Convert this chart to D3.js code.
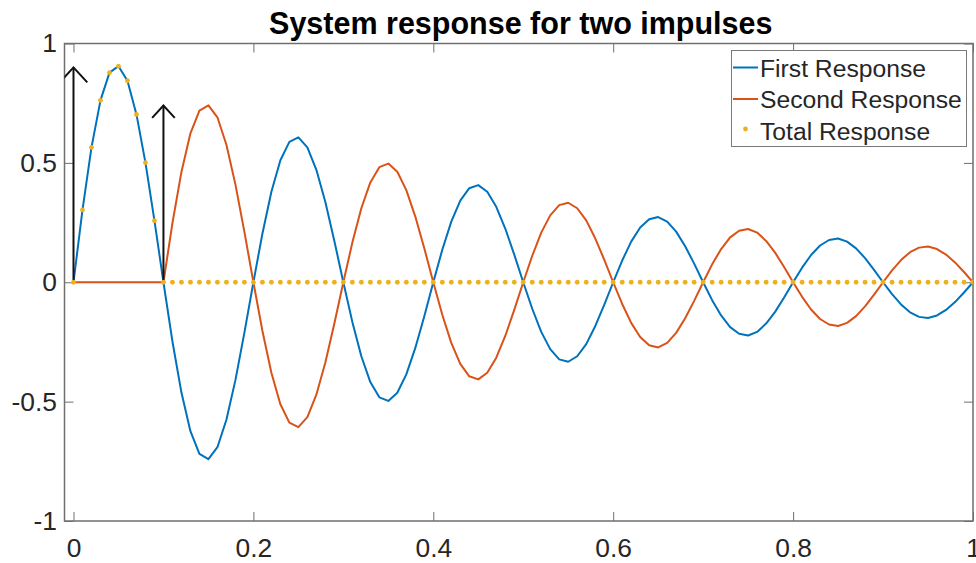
<!DOCTYPE html>
<html>
<head>
<meta charset="utf-8">
<script src="https://cdn.jsdelivr.net/npm/d3@7"></script>
<style>
  body { margin: 0; background: #fff; }
  svg { display: block; }
</style>
</head>
<body>
<svg id="chart" width="976" height="563"></svg>
<script>
// Sample times (s)
const timeSamples = [
  0.00, 0.01, 0.02, 0.03, 0.04, 0.05, 0.06, 0.07, 0.08, 0.09,
  0.10, 0.11, 0.12, 0.13, 0.14, 0.15, 0.16, 0.17, 0.18, 0.19,
  0.20, 0.21, 0.22, 0.23, 0.24, 0.25, 0.26, 0.27, 0.28, 0.29,
  0.30, 0.31, 0.32, 0.33, 0.34, 0.35, 0.36, 0.37, 0.38, 0.39,
  0.40, 0.41, 0.42, 0.43, 0.44, 0.45, 0.46, 0.47, 0.48, 0.49,
  0.50, 0.51, 0.52, 0.53, 0.54, 0.55, 0.56, 0.57, 0.58, 0.59,
  0.60, 0.61, 0.62, 0.63, 0.64, 0.65, 0.66, 0.67, 0.68, 0.69,
  0.70, 0.71, 0.72, 0.73, 0.74, 0.75, 0.76, 0.77, 0.78, 0.79,
  0.80, 0.81, 0.82, 0.83, 0.84, 0.85, 0.86, 0.87, 0.88, 0.89,
  0.90, 0.91, 0.92, 0.93, 0.94, 0.95, 0.96, 0.97, 0.98, 0.99,
  1.00
];

// Response to the impulse at t = 0
const firstResponse = [
  0, 0.303, 0.565, 0.762, 0.878, 0.905, 0.844, 0.703, 0.501, 0.258,
  0, -0.248, -0.462, -0.624, -0.719, -0.741, -0.691, -0.576, -0.410, -0.211,
  0, 0.203, 0.379, 0.511, 0.588, 0.607, 0.565, 0.471, 0.336, 0.173,
  0, -0.166, -0.310, -0.418, -0.482, -0.497, -0.463, -0.386, -0.275, -0.142,
  0, 0.136, 0.254, 0.342, 0.394, 0.407, 0.379, 0.316, 0.225, 0.116,
  0, -0.111, -0.208, -0.280, -0.323, -0.333, -0.310, -0.259, -0.184, -0.095,
  0, 0.091, 0.170, 0.229, 0.264, 0.273, 0.254, 0.212, 0.151, 0.078,
  0, -0.075, -0.139, -0.188, -0.216, -0.223, -0.208, -0.173, -0.124, -0.064,
  0, 0.061, 0.114, 0.154, 0.177, 0.183, 0.170, 0.142, 0.101, 0.052,
  0, -0.050, -0.093, -0.126, -0.145, -0.150, -0.139, -0.116, -0.083, -0.043,
  0
];

// Response to the impulse at t = 0.1
const secondResponse = [
  0, 0, 0, 0, 0, 0, 0, 0, 0, 0,
  0, 0.248, 0.462, 0.624, 0.719, 0.741, 0.691, 0.576, 0.410, 0.211,
  0, -0.203, -0.379, -0.511, -0.588, -0.607, -0.565, -0.471, -0.336, -0.173,
  0, 0.166, 0.310, 0.418, 0.482, 0.497, 0.463, 0.386, 0.275, 0.142,
  0, -0.136, -0.254, -0.342, -0.394, -0.407, -0.379, -0.316, -0.225, -0.116,
  0, 0.111, 0.208, 0.280, 0.323, 0.333, 0.310, 0.259, 0.184, 0.095,
  0, -0.091, -0.170, -0.229, -0.264, -0.273, -0.254, -0.212, -0.151, -0.078,
  0, 0.075, 0.139, 0.188, 0.216, 0.223, 0.208, 0.173, 0.124, 0.064,
  0, -0.061, -0.114, -0.154, -0.177, -0.183, -0.170, -0.142, -0.101, -0.052,
  0, 0.050, 0.093, 0.126, 0.145, 0.150, 0.139, 0.116, 0.083, 0.043,
  0
];

// Sum of both responses
const totalResponse = [
  0, 0.303, 0.565, 0.762, 0.878, 0.905, 0.844, 0.703, 0.501, 0.258,
  0, 0, 0, 0, 0, 0, 0, 0, 0, 0,
  0, 0, 0, 0, 0, 0, 0, 0, 0, 0,
  0, 0, 0, 0, 0, 0, 0, 0, 0, 0,
  0, 0, 0, 0, 0, 0, 0, 0, 0, 0,
  0, 0, 0, 0, 0, 0, 0, 0, 0, 0,
  0, 0, 0, 0, 0, 0, 0, 0, 0, 0,
  0, 0, 0, 0, 0, 0, 0, 0, 0, 0,
  0, 0, 0, 0, 0, 0, 0, 0, 0, 0,
  0, 0, 0, 0, 0, 0, 0, 0, 0, 0,
  0
];

// Impulses shown as arrows
const impulseTimes = [0, 0.1];
const impulseHeights = [0.9, 0.74];

const xTicks = [0, 0.2, 0.4, 0.6, 0.8, 1];
const xTickLabels = ["0", "0.2", "0.4", "0.6", "0.8", "1"];
const yTicks = [-1, -0.5, 0, 0.5, 1];
const yTickLabels = ["-1", "-0.5", "0", "0.5", "1"];
const seriesNames = ["First Response", "Second Response", "Total Response"];
const titleText = "System response for two impulses";

// ---- layout & style ----
const FONT = "'Liberation Sans', Arial, Helvetica, sans-serif";
const TEXT = "#262626";
const AXIS = "#6f6f6f";
const COLORS = ["#0072BD", "#D95319", "#EDB120"];
const box = { left: 64.5, right: 973, top: 43.5, bottom: 521 };

const svg = d3.select("#chart");
svg.append("rect").attr("width", 976).attr("height", 563).attr("fill", "#fff");

const x = d3.scaleLinear().domain([-0.01, 1]).range([box.left, box.right]);
const y = d3.scaleLinear().domain([-1, 1]).range([box.bottom, box.top]);

svg.append("defs").append("clipPath").attr("id", "plotClip")
  .append("rect")
  .attr("x", box.left).attr("y", box.top)
  .attr("width", box.right - box.left).attr("height", box.bottom - box.top);

// ---- axes (ticks pointing inward on all four sides) ----
const TICK = 9;
const fmtX = d => xTickLabels[xTicks.indexOf(d)];
const fmtY = d => yTickLabels[yTicks.indexOf(d)];

function styleAxis(g) {
  g.select(".domain").remove();
  g.selectAll(".tick line").attr("stroke", AXIS).attr("stroke-width", 1);
  g.selectAll(".tick text").attr("fill", TEXT).attr("font-family", FONT).attr("font-size", 26.4);
}

svg.append("g").attr("transform", `translate(0,${box.bottom})`)
  .call(d3.axisBottom(x).tickValues(xTicks).tickFormat(fmtX).tickSize(-TICK).tickPadding(17.5))
  .call(styleAxis);
svg.append("g").attr("transform", `translate(0,${box.top})`)
  .call(d3.axisTop(x).tickValues(xTicks).tickFormat("").tickSize(-TICK))
  .call(styleAxis);
svg.append("g").attr("transform", `translate(${box.left},0)`)
  .call(d3.axisLeft(y).tickValues(yTicks).tickFormat(fmtY).tickSize(-TICK).tickPadding(7.5))
  .call(styleAxis);
svg.append("g").attr("transform", `translate(${box.right},0)`)
  .call(d3.axisRight(y).tickValues(yTicks).tickFormat("").tickSize(-TICK))
  .call(styleAxis);

svg.append("rect")
  .attr("x", box.left).attr("y", box.top)
  .attr("width", box.right - box.left).attr("height", box.bottom - box.top)
  .attr("fill", "none").attr("stroke", AXIS).attr("stroke-width", 1.5);

// ---- data ----
const plot = svg.append("g").attr("clip-path", "url(#plotClip)");
const line = d3.line().x((d, i) => x(timeSamples[i])).y(d => y(d));

[firstResponse, secondResponse].forEach((series, k) => {
  plot.append("path")
    .datum(series)
    .attr("d", line)
    .attr("fill", "none")
    .attr("stroke", COLORS[k])
    .attr("stroke-width", 2)
    .attr("stroke-linejoin", "round");
});

// impulse arrows, head scaled with arrow length
impulseTimes.forEach((t, i) => {
  const h = impulseHeights[i];
  const hx = 0.017 * h, hy = 0.07 * h;
  const g = plot.append("g").attr("stroke", "#111").attr("stroke-width", 2).attr("fill", "none");
  g.append("line").attr("x1", x(t)).attr("y1", y(0)).attr("x2", x(t)).attr("y2", y(h));
  g.append("path").attr("d", d3.line()([
    [x(t - hx), y(h - hy)], [x(t), y(h)], [x(t + hx), y(h - hy)]
  ]));
});

plot.append("g").selectAll("circle")
  .data(totalResponse)
  .join("circle")
  .attr("cx", (d, i) => x(timeSamples[i]))
  .attr("cy", d => y(d))
  .attr("r", 2.4)
  .attr("fill", COLORS[2]);

// ---- title ----
svg.append("text")
  .attr("x", (box.left + box.right) / 2 + 2)
  .attr("y", 33.5)
  .attr("text-anchor", "middle")
  .attr("font-family", FONT)
  .attr("font-weight", "bold")
  .attr("font-size", 30.5)
  .attr("fill", "#000")
  .text(titleText);

// ---- legend ----
const lg = svg.append("g");
lg.append("rect")
  .attr("x", 731.5).attr("y", 50.5).attr("width", 235).attr("height", 96)
  .attr("fill", "#fff").attr("stroke", "#7a7a7a").attr("stroke-width", 1);
const rowY = [67.5, 99, 130.5];
seriesNames.forEach((name, i) => {
  const cy = rowY[i];
  if (i < 2) {
    lg.append("line").attr("x1", 733).attr("x2", 758).attr("y1", cy).attr("y2", cy)
      .attr("stroke", COLORS[i]).attr("stroke-width", 2);
  } else {
    lg.append("circle").attr("cx", 745.5).attr("cy", cy - 1.5).attr("r", 2.4).attr("fill", COLORS[i]);
  }
  lg.append("text")
    .attr("x", 760).attr("y", cy + 9)
    .attr("font-family", FONT).attr("font-size", 24.7).attr("fill", TEXT)
    .text(name);
});
</script>
</body>
</html>
